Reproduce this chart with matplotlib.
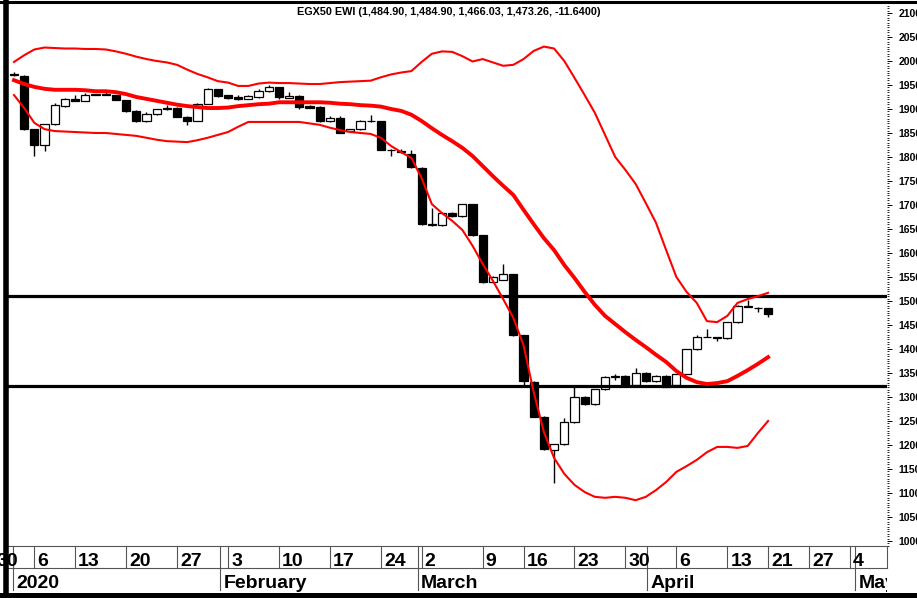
import matplotlib
matplotlib.use("Agg")
import matplotlib.pyplot as plt
from matplotlib.lines import Line2D
from matplotlib.ticker import MultipleLocator, FixedLocator
from matplotlib.transforms import blended_transform_factory, Bbox, TransformedBbox
import numpy as np

plt.rcParams['font.family'] = ['Liberation Sans', 'DejaVu Sans']
plt.rcParams['font.weight'] = 'bold'

title = "EGX50 EWI (1,484.90, 1,484.90, 1,466.03, 1,473.26, -11.6400)"

# daily OHLC (trading days from 2 Jan 2020 to 21 Apr 2020)
opens = [1973, 1969, 1858, 1824, 1868, 1907, 1920, 1917, 1930, 1930,
         1929, 1919, 1896, 1874, 1889, 1903, 1903, 1884, 1875, 1911,
         1941, 1929, 1924, 1921, 1924, 1937, 1945, 1923, 1928, 1907,
         1905, 1874, 1882, 1855, 1858, 1875, 1874, 1815, 1812, 1806,
         1778, 1659, 1658, 1684, 1677, 1702, 1637, 1539, 1544, 1556,
         1429, 1332, 1259, 1190, 1202, 1247, 1301, 1285, 1316, 1342,
         1344, 1326, 1351, 1333, 1344, 1324, 1348, 1399, 1425, 1424,
         1422, 1456, 1488, 1486, 1484.90]
highs = [1978, 1970, 1858, 1869, 1913, 1922, 1929, 1934, 1932, 1935,
         1930, 1919, 1897, 1893, 1900, 1908, 1904, 1885, 1912, 1943,
         1942, 1930, 1929, 1929, 1941, 1949, 1946, 1935, 1929, 1908,
         1906, 1885, 1886, 1859, 1877, 1887, 1876, 1816, 1817, 1815,
         1779, 1693, 1685, 1686, 1703, 1703, 1638, 1552, 1578, 1557,
         1430, 1333, 1260, 1203, 1256, 1325, 1302, 1317, 1343, 1347,
         1345, 1360, 1352, 1345, 1345, 1348, 1400, 1429, 1441, 1425,
         1457, 1491, 1502, 1487, 1484.90]
lows = [1969, 1856, 1803, 1813, 1866, 1905, 1916, 1916, 1929, 1929,
        1918, 1894, 1872, 1873, 1888, 1898, 1883, 1867, 1874, 1910,
        1926, 1921, 1919, 1920, 1923, 1936, 1921, 1922, 1901, 1902,
        1873, 1873, 1850, 1852, 1857, 1872, 1814, 1803, 1809, 1778,
        1658, 1657, 1657, 1676, 1676, 1636, 1538, 1537, 1543, 1428,
        1325, 1258, 1190, 1120, 1201, 1246, 1284, 1284, 1315, 1336,
        1325, 1325, 1332, 1332, 1320, 1322, 1347, 1398, 1424, 1417,
        1421, 1455, 1487, 1478, 1466.03]
closes = [1971, 1858, 1825, 1868, 1908, 1921, 1917, 1930, 1931, 1932,
          1919, 1896, 1876, 1890, 1899, 1899, 1884, 1876, 1911, 1941,
          1927, 1922, 1920, 1928, 1937, 1945, 1924, 1928, 1905, 1903,
          1874, 1881, 1851, 1858, 1876, 1876, 1815, 1814, 1810, 1779,
          1660, 1660, 1684, 1677, 1702, 1637, 1540, 1551, 1556, 1429,
          1333, 1259, 1191, 1202, 1247, 1301, 1285, 1316, 1342, 1343,
          1326, 1351, 1333, 1344, 1321, 1347, 1399, 1424, 1426, 1423,
          1456, 1490, 1489, 1484.9, 1473.26]

# Bollinger bands
upper = [1998, 2012, 2024, 2028, 2027, 2026, 2026, 2025, 2025, 2024,
         2020, 2015, 2009, 2004, 2000, 1997, 1992, 1982, 1973, 1966,
         1958, 1955, 1948, 1948, 1953, 1955, 1954, 1954, 1953, 1952,
         1952, 1954, 1956, 1957, 1958, 1959, 1966, 1972, 1976, 1979,
         1998, 2015, 2020, 2019, 2010, 1999, 2004, 1997, 1990, 1992,
         2004, 2021, 2030, 2026, 2000, 1965, 1929, 1892, 1846, 1800,
         1773, 1744, 1704, 1663, 1606, 1550, 1519, 1496, 1458, 1456,
         1469, 1496, 1504, 1510, 1517]
middle = [1960, 1952, 1946, 1942, 1940, 1940, 1940, 1939, 1937, 1937,
          1935, 1931, 1925, 1921, 1917, 1913, 1909, 1906, 1904, 1902,
          1902, 1903, 1906, 1908, 1910, 1911, 1914, 1914, 1914, 1914,
          1914, 1913, 1911, 1910, 1908, 1907, 1905, 1900, 1896, 1888,
          1875, 1860, 1846, 1833, 1819, 1802, 1781, 1760, 1740, 1721,
          1690, 1660, 1631, 1606, 1575, 1548, 1519, 1492, 1469, 1452,
          1435, 1419, 1404, 1388, 1373, 1354, 1340, 1331, 1327, 1329,
          1333, 1344, 1356, 1369, 1383]
lower = [1929, 1902, 1871, 1858, 1854, 1853, 1852, 1851, 1850, 1850,
         1848, 1846, 1844, 1840, 1836, 1833, 1832, 1831, 1835, 1840,
         1846, 1852, 1863, 1873, 1873, 1873, 1873, 1873, 1873, 1870,
         1867, 1861, 1856, 1852, 1850, 1848, 1840, 1823, 1810, 1798,
         1756, 1702, 1683, 1667, 1648, 1615, 1577, 1542, 1504, 1465,
         1408, 1310, 1227, 1173, 1140, 1117, 1102, 1092, 1090, 1092,
         1090, 1085, 1092, 1106, 1123, 1144, 1156, 1169, 1185, 1196,
         1196, 1194, 1198, 1225, 1250]

levels = [1510, 1322]

week_labels = ["30", "6", "13", "20", "27", "3", "10", "17", "24", "2", "9",
               "16", "23", "30", "6", "13", "21", "27", "4"]
week_pos = [-2, 2, 6, 11, 16, 21, 26, 31, 36, 40, 46, 50, 55, 60, 65, 70, 74, 78, 82]
month_labels = ["2020", "February", "March", "April", "May"]
month_pos = [-0.1, 20.2, 39.6, 62.1, 82.5]
yticks = list(range(1000, 2101, 50))

W, H = 917, 598
fig = plt.figure(figsize=(W / 100, H / 100), dpi=100)
ax = fig.add_axes([7 / W, 52 / H, 880 / W, 543 / H])

n = len(closes)
x = np.arange(n)
o = np.array(opens, float)
c = np.array(closes, float)
bb = np.minimum(o, c)
bh = np.maximum(np.abs(c - o), 0.8)
cols = ['black' if cc < oo else 'white' for oo, cc in zip(o, c)]

ax.vlines(x, lows, highs, color='black', lw=1.0, zorder=2)
ax.bar(x, bh, bottom=bb, width=0.8, color=cols, edgecolor='black', linewidth=0.9, zorder=3)

for lv in levels:
    ax.axhline(lv, color='black', lw=2.3, zorder=4)

ax.plot(x, upper, color='#ff0000', lw=1.5, zorder=5)
ax.plot(x, lower, color='#ff0000', lw=1.5, zorder=5)
ax.plot(x, middle, color='#ff0000', lw=2.8, zorder=5)

ax.set_xlim(-0.687, 85.67)
ax.set_ylim(989.6, 2120.8)

for s in ['left', 'top', 'right']:
    ax.spines[s].set_visible(False)
ax.spines['bottom'].set_color('#555555')
ax.spines['bottom'].set_linewidth(0.8)

ax.set_xticks([])
ax.yaxis.tick_right()
ax.yaxis.set_major_locator(FixedLocator(yticks))
ax.yaxis.set_minor_locator(MultipleLocator(5))
ax.tick_params(axis='y', which='major', length=3.5, width=0.7, pad=5, labelsize=7.5, direction='out')
ax.tick_params(axis='y', which='minor', length=1.3, width=0.6, direction='out')
for t in ax.get_yticklabels():
    t.set_fontweight('bold')

# date rows below the plot
tr = blended_transform_factory(ax.transData, fig.transFigure)
clip = TransformedBbox(Bbox([[0, 0], [887 / W, 1]]), fig.transFigure)
y_top = 1 - 546 / H
y_mid = 1 - 568 / H
y_bot = 1 - 590 / H
for p, lab in zip(week_pos, week_labels):
    ln = Line2D([p, p], [y_top, y_mid], transform=tr, color='#555555', lw=0.8)
    ln.set_clip_on(True)
    ln.set_clip_box(clip)
    fig.add_artist(ln)
    t = fig.text(0, 0, lab, transform=tr, fontsize=14, fontweight='bold', ha='left', va='baseline')
    t.set_position((p + 0.3, 1 - 566 / H))
    t.set_clip_on(True)
    t.set_clip_box(clip)
for p, lab in zip(month_pos, month_labels):
    ln = Line2D([p, p], [y_top, y_bot], transform=tr, color='#555555', lw=0.8)
    ln.set_clip_on(True)
    ln.set_clip_box(clip)
    fig.add_artist(ln)
    t = fig.text(0, 0, lab, transform=tr, fontsize=14, fontweight='bold', ha='left', va='baseline')
    t.set_position((p + 0.35, 1 - 588 / H))
    t.set_clip_on(True)
    t.set_clip_box(clip)

fig.add_artist(Line2D([7 / W, 887 / W], [y_mid, y_mid], transform=fig.transFigure, color='#555555', lw=0.8))
fig.add_artist(Line2D([887 / W, 887 / W], [y_top, y_mid], transform=fig.transFigure, color='#555555', lw=0.8))

# heavy frame
fig.add_artist(Line2D([0, 1], [1 - 1.5 / H, 1 - 1.5 / H], transform=fig.transFigure, color='black', lw=2.2, zorder=10))
fig.add_artist(Line2D([0, 1], [1 - 594.5 / H, 1 - 594.5 / H], transform=fig.transFigure, color='black', lw=3.6, zorder=10))
fig.add_artist(Line2D([6.0 / W, 6.0 / W], [0, 1], transform=fig.transFigure, color='black', lw=4.0, zorder=10))

fig.text(448.5 / W, 1 - 12 / H, title, ha='center', va='center', fontsize=7.8, fontweight='bold')

fig.savefig('out.png', dpi=100)
